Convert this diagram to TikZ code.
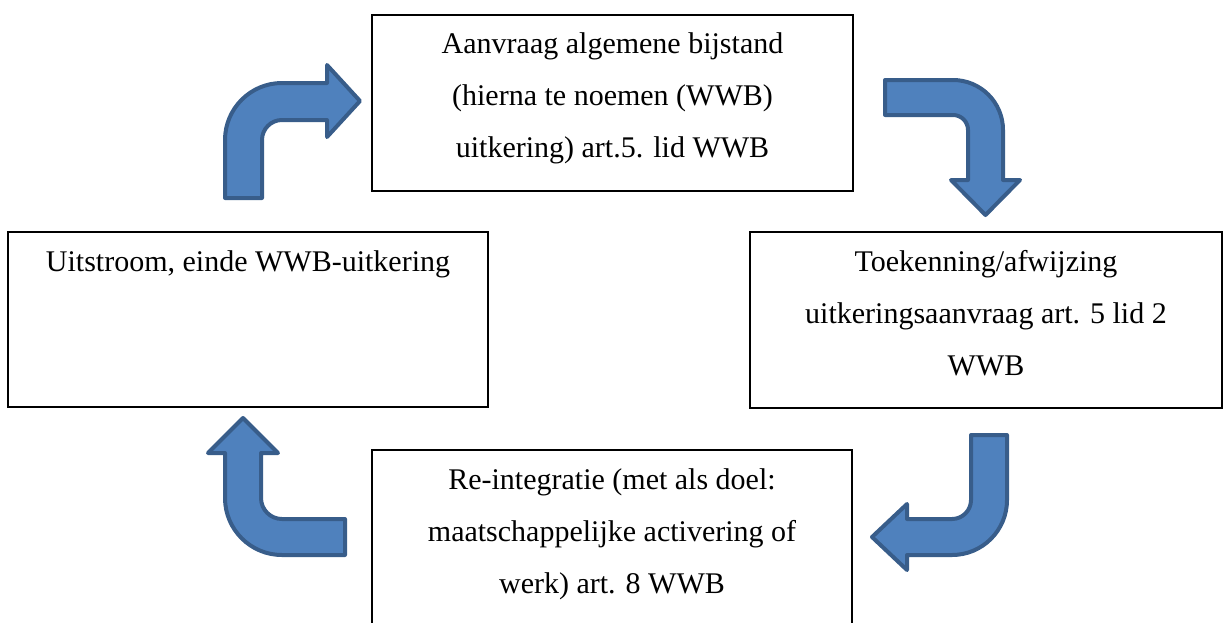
\documentclass[tikz,border=0pt]{standalone}
\usepackage{fontspec}
\setmainfont{Liberation Serif}
\definecolor{pijlblauw}{HTML}{4F81BD}
\definecolor{pijlrand}{HTML}{385D8A}
\begin{document}
\begin{tikzpicture}[x=0.5pt,y=-0.5pt,
  box/.style={draw=black,line width=1pt},
  tekst/.style={anchor=base,align=center,inner sep=0pt,
    font=\fontsize{15}{26}\selectfont},
  pijl/.style={fill=pijlblauw,draw=pijlrand,line width=2pt,line join=round}]
\useasboundingbox (0,0) rectangle (1224,622);
\clip (0,0) rectangle (1224,622);

% base = basislijn van de laatste regel
\path[box] (372,15) rectangle (853,191);
\node[tekst] (aanvraag) at (612.5,157)
{Aanvraag algemene bijstand\\(hierna te noemen (WWB)\\uitkering) art.5. lid WWB};

\path[box] (8,232) rectangle (488,407);
\node[tekst] (uitstroom) at (248,271) {Uitstroom, einde WWB-uitkering};

\path[box] (750,232) rectangle (1222,408);
\node[tekst] (toekenning) at (986,375)
{Toekenning/afwijzing\\uitkeringsaanvraag art. 5 lid 2\\WWB};

\path[box] (372,450) rectangle (852,660);
\node[tekst] (reintegratie) at (612,593)
{Re-integratie (met als doel:\\maatschappelijke activering of\\werk) art. 8 WWB};

% gebogen pijlen
\path[pijl] (225,198) -- (225,140) arc[start angle=180,end angle=270,radius=57]
  -- (327,83) -- (327,65) -- (360,101) -- (327,137) -- (327,120) -- (282,120)
  arc[start angle=270,end angle=180,radius=20] -- (262,198) -- cycle;

\path[pijl] (885,80) -- (953,80) arc[start angle=270,end angle=360,radius=50]
  -- (1003,180) -- (1020,180) -- (985.5,215) -- (951,180) -- (968,180) -- (968,130)
  arc[start angle=0,end angle=-90,radius=15] -- (885,115) -- cycle;

\path[pijl] (971,435) -- (1007,435) -- (1007,500) arc[start angle=0,end angle=90,radius=55]
  -- (907,555) -- (907,570) -- (872,537) -- (907,504) -- (907,519) -- (952,519)
  arc[start angle=90,end angle=0,radius=19] -- cycle;

\path[pijl] (345,519) -- (345,555) -- (282,555) arc[start angle=90,end angle=180,radius=57]
  -- (225,453) -- (208,453) -- (243,418) -- (278,453) -- (261,453) -- (261,498)
  arc[start angle=180,end angle=90,radius=21] -- cycle;
\end{tikzpicture}
\end{document}
